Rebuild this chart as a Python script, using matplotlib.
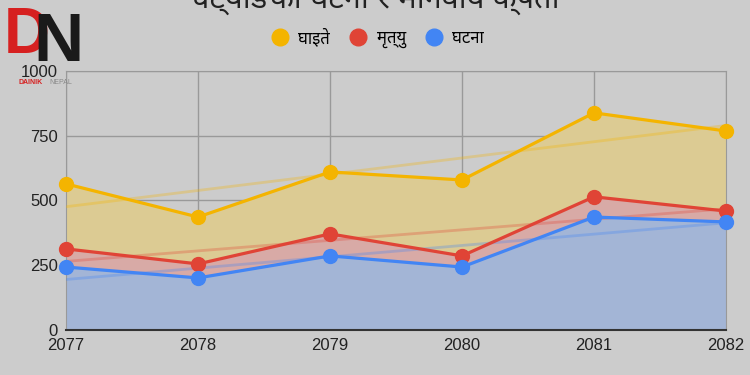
import numpy as np
import matplotlib.pyplot as plt

years = [2077, 2078, 2079, 2080, 2081, 2082]
injured = [564, 436, 610, 579, 838, 768]   # घाइते
deaths = [313, 255, 371, 286, 514, 459]    # मृत्यु
events = [243, 201, 286, 243, 436, 417]    # घटना

labels = ['घाइते', 'मृत्यु', 'घटना']
colors = ['#f4b400', '#e04436', '#4285f4']
fills = ['#dccb93', '#d8aaa6', '#a3b5d6']
title = 'चट्याङका घटना र मानवीय क्षति'

plt.rcParams['font.family'] = ['Liberation Sans', 'Noto Sans', 'DejaVu Sans']
bg = '#cccccc'

fig = plt.figure(figsize=(7.5, 3.75), dpi=100, facecolor=bg)
ax = fig.add_axes([0.088, 0.12, 0.88, 0.691])
ax.set_facecolor(bg)

x = np.array(years)
series = [injured, deaths, events]
# area fills (drawn as bands so the overlaps keep the sheet colours)
ax.fill_between(x, injured, deaths, color=fills[0], lw=0, zorder=2)
ax.fill_between(x, deaths, events, color=fills[1], lw=0, zorder=2)
ax.fill_between(x, events, 0, color=fills[2], lw=0, zorder=2)

for vals, col, lab in zip(series, colors, labels):
    # linear trendline
    k, b = np.polyfit(x - x[0], vals, 1)
    ax.plot(x, k * (x - x[0]) + b, color=col, alpha=0.3, lw=2, zorder=3)
    ax.plot(x, vals, color=col, lw=2.3, marker='o', ms=10, label=lab,
            zorder=4, clip_on=False)

ax.set_xlim(2077, 2082)
ax.set_ylim(0, 1000)
ax.set_yticks([0, 250, 500, 750, 1000])
ax.set_xticks(years)
ax.grid(True, color='#999999', lw=1, zorder=1)
for s in ['top', 'right', 'left']:
    ax.spines[s].set_color('#999999')
ax.spines['bottom'].set_color('#333333')
ax.spines['bottom'].set_linewidth(1.5)
ax.tick_params(length=0, labelsize=12, colors='#222222', pad=6)
ax.set_axisbelow(True)

leg = fig.legend(loc='center', bbox_to_anchor=(0.505, 0.9), ncol=3, frameon=False,
                 handlelength=0.8, handletextpad=0.7, columnspacing=1.3,
                 fontsize=12)
for h in leg.legend_handles:
    h.set_linestyle('none')
    h.set_markersize(12)

fig.text(0.5, 1.005, title, ha='center', va='center', fontsize=22, color='#222222')

# rough logo
fig.text(0.005, 0.905, 'D', fontsize=46, fontweight='bold', color='#d62020', va='center')
fig.text(0.045, 0.885, 'N', fontsize=50, fontweight='bold', color='#1a1a1a', va='center')
fig.text(0.025, 0.775, 'DAINIK', fontsize=5, fontweight='bold', color='#d62020')
fig.text(0.066, 0.775, 'NEPAL', fontsize=5, color='#888888')

fig.savefig('out.png', dpi=100, facecolor=bg)
